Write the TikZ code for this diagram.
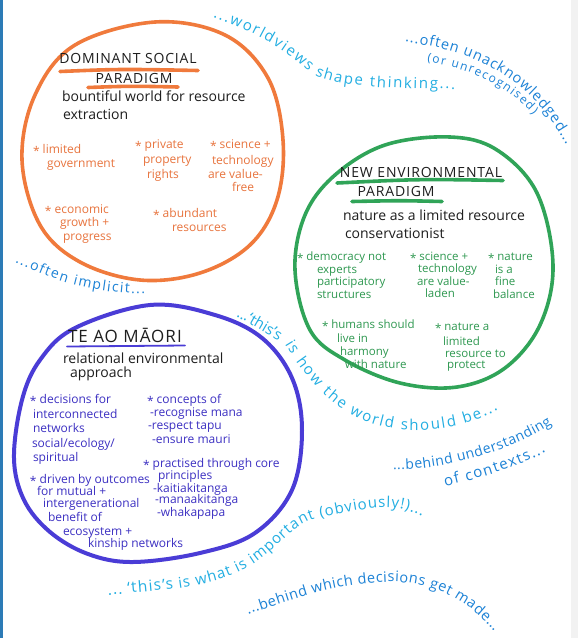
\documentclass[tikz,border=0pt]{standalone}
\usepackage{fontspec}
\setmainfont{Open Sans}
\newfontfamily\notefont{Open Sans}
\newfontfamily\capsfont[LetterSpace=6]{Open Sans}
\newfontfamily\widenotefont[LetterSpace=8]{Open Sans}
\usetikzlibrary{decorations.text}

\definecolor{inkBlack}{HTML}{1E1E1E}
\definecolor{dspOrange}{HTML}{F07A3C}
\definecolor{dspText}{HTML}{E8743E}
\definecolor{nepGreen}{HTML}{30A458}
\definecolor{nepText}{HTML}{2E9850}
\definecolor{maoriBlue}{HTML}{4A3CD6}
\definecolor{maoriText}{HTML}{3C30C2}
\definecolor{noteCyan}{HTML}{22AEE2}
\definecolor{noteBlue}{HTML}{1C82D6}
\definecolor{edgeBlue}{HTML}{2C7BB6}

\newcommand\bul{\raisebox{-0.35ex}{*}}
\newcommand\tline[4]{\node[#1] (#2) at (#3) {#4};}

\tikzset{
  every node/.style={inner sep=0pt, outer sep=0pt},
  ring/.style={line width=3.6pt, line join=round, line cap=round},
  bar/.style={line width=3.6pt, line cap=round},
  heading/.style={font=\capsfont\fontsize{14}{14}\selectfont, text=inkBlack, anchor=base},
  desc/.style={font=\fontsize{14}{14}\selectfont, text=inkBlack, anchor=base west},
  dspitem/.style={font=\fontsize{12}{12}\selectfont, text=dspText, anchor=base west},
  nepitem/.style={font=\fontsize{11.5}{12}\selectfont, text=nepText, anchor=base west},
  maoitem/.style={font=\fontsize{12}{12}\selectfont, text=maoriText, anchor=base west},
  note/.style={decorate, decoration={text along path, text align=fit to path, text={#1}}},
  notenode/.style={font=\notefont\fontsize{15}{15}\selectfont, anchor=base west},
}

\begin{document}
\begin{tikzpicture}[x=1pt, y=-1pt]
\useasboundingbox (0,0) rectangle (578,638);
\fill[white] (0,0) rectangle (578,638);
\fill[edgeBlue] (0,0) rectangle (2.5,638);
\fill[gray!10] (571,0) rectangle (578,638);

% --- the three worldview circles ---
\draw[ring, dspOrange] plot[smooth cycle, tension=0.6] coordinates {
  (155,22) (225,35) (268,78) (283,140) (277,200) (250,245) (200,273)
  (140,280) (80,262) (40,225) (22,160) (35,95) (75,45)};
\draw[ring, nepGreen] plot[smooth cycle, tension=0.6] coordinates {
  (450,137) (497,150) (537,193) (553,265) (540,325) (505,368) (457,387)
  (400,383) (345,360) (310,330) (295,270) (305,215) (335,175) (385,145)};
\draw[ring, maoriBlue, line width=4pt] plot[smooth cycle, tension=0.6] coordinates {
  (150,305) (215,315) (262,338) (292,378) (302,430) (292,490) (255,533)
  (200,553) (133,562) (88,554) (50,532) (24,500) (14,458) (22,400) (40,360) (75,328)};

% --- Dominant Social Paradigm ---
\tline{heading}{dsp1}{128,63}{DOMINANT SOCIAL}
\tline{heading}{dsp2}{134,83}{PARADIGM}
\draw[bar, dspOrange] (60,71.5) .. controls (120,69) .. (198,70.5);
\draw[bar, dspOrange] (88,87.5) .. controls (130,86) .. (178,87);
\tline{desc}{dsp3}{62,101}{bountiful world for resource}
\tline{desc}{dsp4}{63,119}{extraction}

\tline{dspitem}{o1a}{33,153}{\bul\ limited}
\tline{dspitem}{o1b}{47,167}{government}
\tline{dspitem}{o2a}{135,148}{\bul\ private}
\tline{dspitem}{o2b}{143,163}{property}
\tline{dspitem}{o2c}{147,178}{rights}
\tline{dspitem}{o3a}{210,148}{\bul\ science +}
\tline{dspitem}{o3b}{212,164}{technology}
\tline{dspitem}{o3c}{208,178}{are value-}
\tline{dspitem}{o3d}{232,191}{free}
\tline{dspitem}{o4a}{45,213}{\bul\ economic}
\tline{dspitem}{o4b}{60,226}{growth +}
\tline{dspitem}{o4c}{63,240}{progress}
\tline{dspitem}{o5a}{153,217}{\bul\ abundant}
\tline{dspitem}{o5b}{172,231}{resources}

% --- New Environmental Paradigm ---
\tline{heading}{nep1}{421,177}{NEW ENVIRONMENTAL}
\tline{heading}{nep2}{396,196}{PARADIGM}
\draw[bar, nepGreen] (337,183) .. controls (420,179) .. (503,180.5);
\draw[bar, nepGreen] (352,201.5) .. controls (400,200.5) .. (442,201.5);
\tline{desc}{nep3}{343,220}{nature as a limited resource}
\tline{desc}{nep4}{345,238}{conservationist}

\tline{nepitem}{g1a}{297,260}{\bul\ democracy not}
\tline{nepitem}{g1b}{317,273}{experts}
\tline{nepitem}{g1c}{317,285}{participatory}
\tline{nepitem}{g1d}{317,298}{structures}
\tline{nepitem}{g2a}{410,260}{\bul\ science +}
\tline{nepitem}{g2b}{418,272}{technology}
\tline{nepitem}{g2c}{417,285}{are value-}
\tline{nepitem}{g2d}{425,297}{laden}
\tline{nepitem}{g3a}{488,260}{\bul\ nature}
\tline{nepitem}{g3b}{495,273}{is a}
\tline{nepitem}{g3c}{495,285}{fine}
\tline{nepitem}{g3d}{493,298}{balance}
\tline{nepitem}{g4a}{322,328}{\bul\ humans should}
\tline{nepitem}{g4b}{337,342}{live in}
\tline{nepitem}{g4c}{340,355}{harmony}
\tline{nepitem}{g4d}{345,368}{with nature}
\tline{nepitem}{g5a}{435,330}{\bul\ nature a}
\tline{nepitem}{g5b}{443,345}{limited}
\tline{nepitem}{g5c}{445,357}{resource to}
\tline{nepitem}{g5d}{447,368}{protect}

% --- Te Ao Maori ---
\tline{heading, anchor=base west, font=\capsfont\fontsize{17}{17}\selectfont}{tam1}{68,342}{TE AO MĀORI}
\draw[maoriBlue, line width=1.8pt, line cap=round] (67,346.5) -- (185,345.5);
\tline{desc}{tam2}{63,363}{relational environmental}
\tline{desc}{tam3}{70,377}{approach}

\tline{maoitem}{b1a}{30,403}{\bul\ decisions for}
\tline{maoitem}{b1b}{33,418}{interconnected}
\tline{maoitem}{b1c}{33,432}{networks}
\tline{maoitem}{b1d}{32,447}{social/ecology/}
\tline{maoitem}{b1e}{33,461}{spiritual}
\tline{maoitem}{b2a}{30,483}{\bul\ driven by outcomes}
\tline{maoitem}{b2b}{37,495}{for mutual +}
\tline{maoitem}{b2c}{43,507}{intergenerational}
\tline{maoitem}{b2d}{48,521}{benefit of}
\tline{maoitem}{b2e}{63,535}{ecosystem +}
\tline{maoitem}{b2f}{88,547}{kinship networks}
\tline{maoitem}{b3a}{147,403}{\bul\ concepts of}
\tline{maoitem}{b3b}{150,416}{-recognise mana}
\tline{maoitem}{b3c}{148,429}{-respect tapu}
\tline{maoitem}{b3d}{152,443}{-ensure mauri}
\tline{maoitem}{b4a}{143,467}{\bul\ practised through core}
\tline{maoitem}{b4b}{158,479}{principles}
\tline{maoitem}{b4c}{153,492}{-kaitiakitanga}
\tline{maoitem}{b4d}{155,503}{-manaakitanga}
\tline{maoitem}{b4e}{157,516}{-whakapapa}

% --- handwritten asides along curves ---
\path[note={|\notefont\fontsize{15}{15}\selectfont\color{noteCyan}|...worldviews shape thinking...}]
  (213,18) .. controls (255,30) and (285,50) .. (310,72)
           .. controls (328,86) and (380,89) .. (455,89);
\path[note={|\notefont\fontsize{14.5}{15}\selectfont\color{noteBlue}|...often unacknowledged...}]
  (405,42) .. controls (470,50) and (530,75) .. (566,145);
\path[note={|\notefont\fontsize{12}{12}\selectfont\color{noteBlue}|(or unrecognised)}]
  (427,62) .. controls (465,68) and (505,82) .. (533,115);
\path[note={|\notefont\fontsize{14}{14}\selectfont\color{noteBlue}|...often implicit...}]
  (15,262) .. controls (50,278) and (80,292) .. (145,294);

\node[notenode, text=noteCyan, rotate=-30] (how0) at (236,316) {...‘this’s};
\path[note={|\notefont\fontsize{15}{15}\selectfont\color{noteCyan}|is how the world should be...}]
  (285,344) .. controls (310,385) and (345,428) .. (410,430)
            .. controls (450,431) and (480,420) .. (498,410);

\path[note={|\notefont\fontsize{14}{14}\selectfont\color{noteBlue}|...behind understanding}]
  (393,469) .. controls (430,472) and (505,455) .. (552,424);
\path[note={|\notefont\fontsize{15}{15}\selectfont\color{noteBlue}|of contexts...}]
  (445,486) .. controls (475,480) and (515,468) .. (546,452);

\node[notenode, font=\widenotefont\fontsize{15.5}{15.5}\selectfont, text=noteCyan, rotate=5] (imp0) at (108,595) {...\hspace{5pt}‘this’s};
\path[note={|\notefont\fontsize{15}{15}\selectfont\color{noteCyan}|is what is important (obviously!)...}]
  (179,588) .. controls (215,583) and (240,575) .. (262,558)
            .. controls (285,540) and (295,522) .. (322,517)
            .. controls (360,510) and (395,500) .. (422,517);

\path[note={|\notefont\fontsize{14.5}{15}\selectfont\color{noteBlue}|...behind which decisions get made...}]
  (248,614) .. controls (300,598) and (330,584) .. (385,582)
            .. controls (430,580) and (470,600) .. (494,632);
\end{tikzpicture}
\end{document}
